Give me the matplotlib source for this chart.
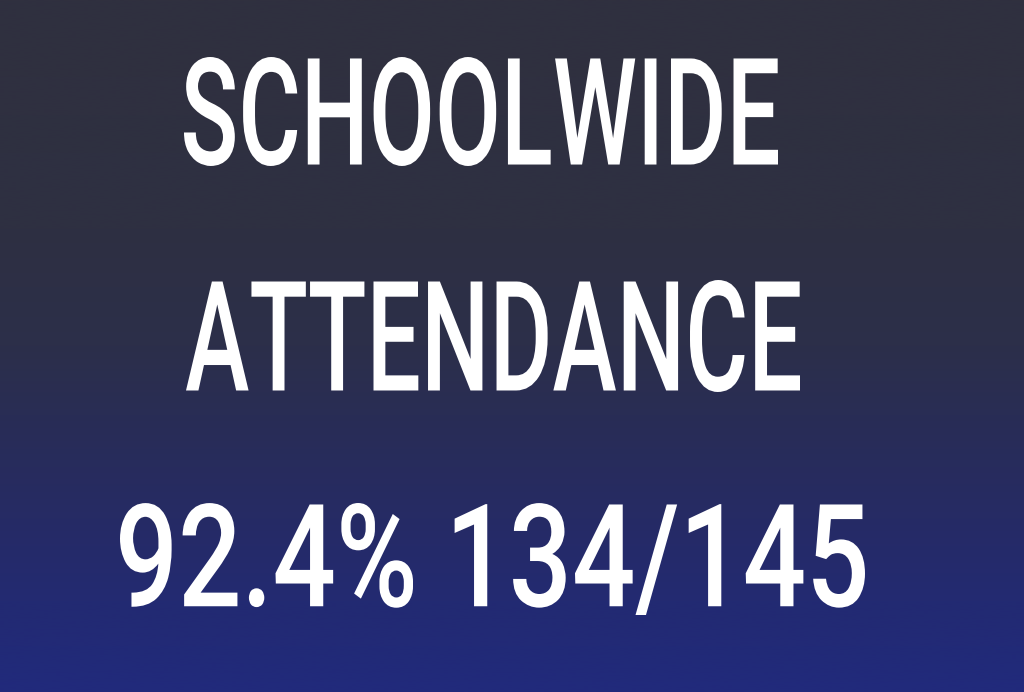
import numpy as np
import matplotlib
matplotlib.use("Agg")
import matplotlib.pyplot as plt
from matplotlib.colors import LinearSegmentedColormap
from matplotlib.patheffects import AbstractPathEffect
from matplotlib.transforms import Affine2D

# ---- data ----
title_lines = ["SCHOOLWIDE", "ATTENDANCE"]
attendance_pct = 92.4
students_present = 134
students_total = 145

# ---- style ----
W, H, DPI = 1024, 692, 100
grad_stops = [0.0, 0.33, 0.5, 0.6, 0.75, 0.87, 1.0]
grad_colors = ["#30303f", "#2e3042", "#2c2f4a", "#292d55", "#262b65", "#232a72", "#212a7c"]

# line boxes in pixels from top-left: (left, right, top, baseline)
layout = [(184, 778, 57, 166), (186, 800, 280, 392), (120, 865, 503, 615)]
FONT_PT = 74


class FitBox(AbstractPathEffect):
    """Condensed display face: reshape the rendered glyphs to fill a pixel box."""

    def __init__(self, x0, x1, top, base):
        super().__init__()
        self.x0, self.x1 = x0, x1
        self.y0, self.y1 = H - base, H - top  # display coords (origin bottom)

    def draw_path(self, renderer, gc, tpath, affine, rgbFace=None):
        ext = tpath.get_extents(affine)
        sx = (self.x1 - self.x0) / ext.width
        sy = (self.y1 - self.y0) / ext.height
        t = affine + (Affine2D().translate(-ext.x0, -ext.y0)
                      .scale(sx, sy).translate(self.x0, self.y0))
        renderer.draw_path(gc, tpath, t, rgbFace)


fig = plt.figure(figsize=(W / DPI, H / DPI), dpi=DPI)
ax = fig.add_axes([0, 0, 1, 1])
ax.set_axis_off()
cmap = LinearSegmentedColormap.from_list("bg", list(zip(grad_stops, grad_colors)))
grad = np.linspace(0, 1, 512).reshape(-1, 1)
ax.imshow(grad, cmap=cmap, aspect="auto", extent=[0, 1, 1, 0], interpolation="bicubic")
ax.set_xlim(0, 1)
ax.set_ylim(1, 0)

lines = title_lines + [f"{attendance_pct:.1f}% {students_present}/{students_total}"]
for txt, (x0, x1, top, base) in zip(lines, layout):
    fig.text((x0 + x1) / 2 / W, 1 - base / H, txt, ha="center", va="baseline",
             fontsize=FONT_PT, family="Roboto", fontweight="medium", color="white",
             path_effects=[FitBox(x0, x1, top, base)])

fig.savefig("out.png", dpi=DPI)
